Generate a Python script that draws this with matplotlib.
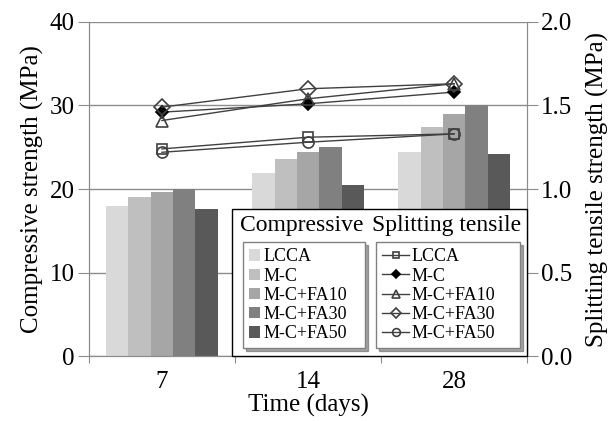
import numpy as np
import matplotlib
matplotlib.use("Agg")
import matplotlib.pyplot as plt
from matplotlib.patches import Rectangle

plt.rcParams['font.family'] = ['Liberation Serif', 'DejaVu Serif']

# datos
edades = ['7', '14', '28']
mezclas = ['LCCA', 'M-C', 'M-C+FA10', 'M-C+FA30', 'M-C+FA50']
compresion = {
    'LCCA':     [18.0, 21.9, 24.4],
    'M-C':      [19.0, 23.6, 27.4],
    'M-C+FA10': [19.7, 24.4, 29.0],
    'M-C+FA30': [20.0, 25.0, 30.0],
    'M-C+FA50': [17.6, 20.5, 24.2],
}
traccion = {
    'LCCA':     [1.24, 1.31, 1.33],
    'M-C':      [1.46, 1.51, 1.58],
    'M-C+FA10': [1.41, 1.54, 1.63],
    'M-C+FA30': [1.49, 1.60, 1.63],
    'M-C+FA50': [1.22, 1.28, 1.33],
}

colores = ['#d9d9d9', '#bfbfbf', '#a6a6a6', '#808080', '#595959']
marcadores = [('s', 'none', 7), ('D', 'black', 6), ('^', 'none', 8),
              ('D', 'none', 8), ('o', 'none', 8)]
gris = '#8c8c8c'

fig = plt.figure(figsize=(6.13, 4.21), dpi=100)
ax = fig.add_axes([0.145, 0.154, 0.715, 0.794])
ax2 = ax.twinx()

x = np.arange(len(edades))
w = 0.153
for i, m in enumerate(mezclas):
    ax.bar(x + (i - 2) * w, compresion[m], w, color=colores[i], label=m, zorder=2)

lineas = []
for i, m in enumerate(mezclas):
    mk, fc, ms = marcadores[i]
    l, = ax2.plot(x, traccion[m], color='#404040', lw=1.0, marker=mk,
                  markerfacecolor=fc, markeredgecolor='#404040' if fc == 'none' else 'black',
                  markeredgewidth=1.2, markersize=ms, label=m, zorder=3)
    lineas.append(l)

ax.set_xlim(-0.5, 2.5)
ax.set_ylim(0, 40)
ax2.set_ylim(0, 2.0)
ax.set_yticks([0, 10, 20, 30, 40])
ax2.set_yticks([0, 0.5, 1.0, 1.5, 2.0])
ax2.set_yticklabels(['0.0', '0.5', '1.0', '1.5', '2.0'])
ax.set_xticks([-0.5, 0.5, 1.5, 2.5])
ax.set_xticklabels([])
ax.set_xticks(x, minor=True)
ax.set_xticklabels(edades, minor=True)
ax.tick_params(axis='x', which='minor', length=0, labelsize=18, pad=11)
ax.tick_params(axis='x', which='major', length=5, color=gris)
ax.tick_params(axis='y', length=8, color=gris, labelsize=18, pad=2)
ax2.tick_params(axis='y', length=8, color=gris, labelsize=18, pad=2)

ax.yaxis.grid(True, color=gris, lw=1.0, zorder=0)
ax.set_axisbelow(True)
for a in (ax, ax2):
    a.spines['top'].set_visible(False)
    for s in ('left', 'right', 'bottom'):
        a.spines[s].set_color(gris)

ax.set_xlabel('Time (days)', fontsize=18, labelpad=0)
ax.set_ylabel('Compressive strength (MPa)', fontsize=18, labelpad=4)
ax2.set_ylabel('Splitting tensile strength (MPa)', fontsize=18, labelpad=10)

# caja de leyenda exterior
ax2.add_patch(Rectangle((0.326, 0.0), 0.674, 0.44, transform=ax2.transAxes,
                        facecolor='white', edgecolor='black', lw=1.0, zorder=5,
                        clip_on=False))
ax2.text(0.486, 0.392, 'Compressive', transform=ax2.transAxes, fontsize=17,
         ha='center', va='center', zorder=6)
ax2.text(0.817, 0.392, 'Splitting tensile', transform=ax2.transAxes, fontsize=17,
         ha='center', va='center', zorder=6)

h_barras, l_barras = ax.get_legend_handles_labels()
leg1 = ax2.legend(h_barras, l_barras, loc='upper left', bbox_to_anchor=(0.352, 0.021, 0.278, 0.32),
                  mode='expand', fontsize=13, handlelength=0.6, handleheight=0.6,
                  handletextpad=0.2, labelspacing=0.12, borderaxespad=0, borderpad=0.35,
                  fancybox=False, shadow=True, edgecolor='#808080', framealpha=1)
leg1.set_zorder(7)
ax2.add_artist(leg1)
leg2 = ax2.legend(lineas, mezclas, loc='upper left', bbox_to_anchor=(0.655, 0.021, 0.329, 0.32),
                  mode='expand', fontsize=13, handlelength=1.5, handletextpad=0.1,
                  labelspacing=0.12, borderaxespad=0, borderpad=0.35, markerscale=0.7,
                  fancybox=False, shadow=True, edgecolor='#808080', framealpha=1)
leg2.set_zorder(7)

fig.savefig('out.png', dpi=100)
